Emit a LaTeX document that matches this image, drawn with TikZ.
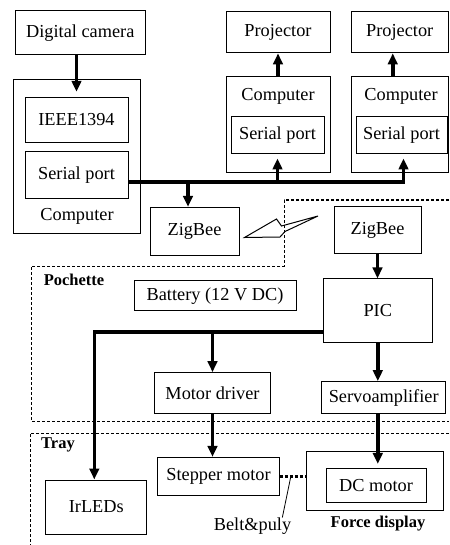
\documentclass[tikz,border=0pt]{standalone}
\usepackage{fontspec}
\setmainfont{Liberation Serif}
\usepackage{tikz}
\usetikzlibrary{positioning,calc,arrows.meta}
\tikzset{edge/.style = {line width=3.5pt, -{Triangle[length=11pt,width=9.5pt]}}}
\tikzset{block/.style = {draw, line width=1pt, inner sep=0pt, font=\fontsize{18.3}{20}\selectfont}}
\tikzset{area/.style = {line width=1pt, dash pattern=on 3pt off 2pt}}

\begin{document}
\begin{tikzpicture}[x=1pt,y=-1pt,lbl/.style={inner sep=0pt,font=\fontsize{18.3}{20}\selectfont},tag/.style={inner sep=0pt,font=\fontsize{16.5}{18}\selectfont\bfseries}]
            \useasboundingbox (0,0) rectangle (449,545);

            % camera side
            \node[block, minimum width=130.5pt, minimum height=44pt] (cam) at (80.25,33) {Digital camera};
            \node[block, minimum width=127.4pt, minimum height=154pt] (pcL) at (77,156.3) {};
            \node[block, minimum width=103pt, minimum height=45pt] (ieee) at (76.5,119.8) {IEEE1394};
            \node[block, minimum width=103pt, minimum height=47pt] (serL) at (76.5,175.3) {Serial port};
            \node[lbl] (cmpL) at (77,216.7) {Computer};
            \node[block, minimum width=89pt, minimum height=47.7pt] (zbL) at (194.5,231.2) {ZigBee};

            % projectors
            \node[block, minimum width=104pt, minimum height=41.7pt] (prj1) at (278,32) {Projector};
            \node[block, minimum width=104pt, minimum height=95.6pt] (pc1) at (278,124.5) {};
            \node[lbl] (cmp1) at (278,96.7) {Computer};
            \node[block, minimum width=93pt, minimum height=37.3pt] (ser1) at (277.5,135.3) {Serial port};
            \node[block, minimum width=97.5pt, minimum height=41.7pt] (prj2) at (399.75,32) {Projector};
            \node[block, minimum width=97.5pt, minimum height=95.6pt] (pc2) at (399.75,124.5) {};
            \node[lbl] (cmp2) at (401,96.7) {Computer};
            \node[block, minimum width=91pt, minimum height=37.3pt] (ser2) at (401.5,135.3) {Serial port};

            % pochette
            \node[tag] (poc) at (74,280) {Pochette};
            \node[block, minimum width=162pt, minimum height=30.3pt] (batt) at (215,295.8) {Battery (12 V DC)};
            \node[block, minimum width=87pt, minimum height=47pt] (zbR) at (377.5,230) {ZigBee};
            \node[block, minimum width=109pt, minimum height=63.7pt] (pic) at (377.8,310.8) {PIC};
            \node[block, minimum width=116.4pt, minimum height=41.3pt] (mdrv) at (212.5,393.3) {Motor driver};
            \node[block, minimum width=124pt, minimum height=32.3pt] (servo) at (383.7,397.8) {Servoamplifier};

            % tray
            \node[tag] (tray) at (58,445) {Tray};
            \node[block, minimum width=100.7pt, minimum height=54pt] (irled) at (96.3,507) {IrLEDs};
            \node[block, minimum width=121.6pt, minimum height=37.7pt] (stp) at (218.5,476.2) {Stepper motor};
            \node[block, minimum width=137.3pt, minimum height=59pt] (force) at (374.7,480.5) {};
            \node[block, minimum width=100pt, minimum height=33.7pt] (dcm) at (376,485.8) {DC motor};
            \node[tag] (fdsp) at (378,524) {Force display};
            \node[lbl] (belt) at (252.5,526) {Belt\&puly};

            \draw[area] (449,200) -- (284,200) -- (284,266) -- (31,266) -- (31,421) -- (449,421);
            \draw[area] (449,433) -- (30,433) -- (30,545);

            % radio link
            \draw[line width=1pt] (244.5,237.5) -- (276.5,219) -- (281.5,226) -- (318,216) -- (285,231.5) -- (280,237) -- cycle;

            \coordinate (bus) at ([yshift=-6.7pt]serL.east);
            \coordinate (zbin) at ([xshift=-6.5pt]zbL.north);
            \coordinate (ser2in) at ([xshift=2pt]ser2.south);
            \coordinate (prj2in) at ([xshift=-7pt]prj2.south);
            \coordinate (picout) at ([yshift=-21pt]pic.west);
            \coordinate (irin) at ([xshift=-2pt]irled.north);
            \coordinate (pul) at ($(stp.east)!0.43!(stp.east -| force.west)$);

            \draw[edge, shorten >=5pt] (cam.south -| ieee.north) -- (ieee.north);
            \draw[edge] (pc1.north) -- (prj1.south);
            \draw[edge] (prj2in |- pc2.north) -- (prj2in);
            \draw[edge, shorten >=4pt] (bus) -| (ser2in);
            \draw[edge, shorten >=4pt] (ser1.south |- bus) -- (ser1.south);
            \draw[edge] (zbin |- bus) -- (zbin);

            \draw[edge] (zbR.south) -- (zbR.south |- pic.north);
            \draw[edge] (pic.south) -- (pic.south |- servo.north);
            \draw[edge] (picout) -| (irin);
            \draw[edge] (mdrv.north |- picout) -- (mdrv.north);
            \draw[edge] (mdrv.south) -- (mdrv.south |- stp.north);
            \draw[edge, shorten >=4.5pt] (pic.south |- servo.south) -- (pic.south |- dcm.north);

            \draw[line width=3pt, dash pattern=on 3pt off 2pt] (stp.east) -- (stp.east -| force.west);
            \draw[line width=0.8pt] ([xshift=-9pt]belt.north east) -- (pul);
        \end{tikzpicture}
\end{document}
